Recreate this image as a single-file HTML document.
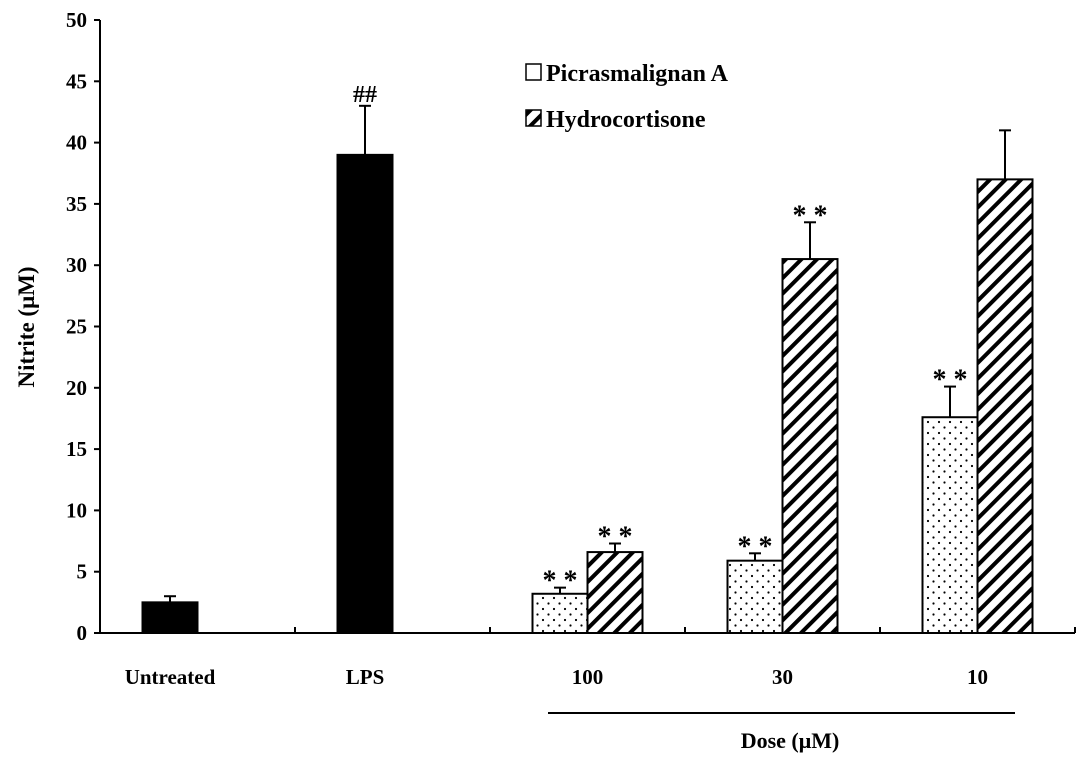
<!DOCTYPE html>
<html><head><meta charset="utf-8"><style>
body{margin:0;background:#fff;}
svg text{font-family:"Liberation Serif",serif;font-weight:bold;}
</style></head><body>
<svg width="1087" height="764" viewBox="0 0 1087 764">
<defs>
<pattern id="dots" width="11" height="11" patternUnits="userSpaceOnUse"><circle cx="4" cy="4" r="1.1" fill="#000"/><circle cx="9.5" cy="9.5" r="1.1" fill="#000"/></pattern>
<pattern id="hatch" width="11" height="11" patternUnits="userSpaceOnUse" patternTransform="rotate(45)"><rect width="11" height="11" fill="#fff"/><rect x="0" y="0" width="4" height="11" fill="#000"/></pattern>
</defs>
<g id="g"></g>
</svg>
<script>
const categories=["Untreated","LPS","100","30","10"];
const picras=[2.5,39,3.2,5.9,17.6];
const picrasErr=[0.5,4,0.5,0.6,2.5];
const hydro=[null,null,6.6,30.5,37];
const hydroErr=[null,null,0.7,3,4];
const picrasMark=["","##","* *","* *","* *"];
const hydroMark=["","","* *","* *",""];
const yTicks=[0,5,10,15,20,25,30,35,40,45,50];
const NS="http://www.w3.org/2000/svg";
const g=document.getElementById('g');
const x0=100,gw=195,bw=55;
const y=v=>633-v*12.26;
function mk(t,a,txt){const e=document.createElementNS(NS,t);for(const k in a)e.setAttribute(k,a[k]);if(txt!=null)e.textContent=txt;g.appendChild(e);return e;}
let e=mk('line',{x1:x0,y1:y(0),x2:1075,y2:y(0),stroke:'#000','stroke-width':2});

e=mk('line',{x1:x0,y1:y(50),x2:x0,y2:y(0),stroke:'#000','stroke-width':2});

yTicks.forEach(t=>{
  e=mk('line',{x1:x0-6,y1:y(t),x2:x0,y2:y(t),stroke:'#000','stroke-width':2});
  
  e=mk('text',{x:x0-13,y:y(t)+7,'text-anchor':'end','font-size':21},t);
  
});
for(let k=1;k<=categories.length;k++){
  e=mk('line',{x1:x0+k*gw,y1:y(0),x2:x0+k*gw,y2:y(0)-6,stroke:'#000','stroke-width':2});
  
}
function bar(xl,v,err,fill,mark){
  const r=mk('rect',{x:xl,y:y(v),width:bw,height:y(0)-y(v),fill:fill,stroke:'#000','stroke-width':2});
  
  const cx=xl+bw/2;
  let l=mk('line',{x1:cx,y1:y(v),x2:cx,y2:y(v+err),stroke:'#000','stroke-width':2});
  
  l=mk('line',{x1:cx-6,y1:y(v+err),x2:cx+6,y2:y(v+err),stroke:'#000','stroke-width':2});
  
  if(mark){const t=mk('text',{x:cx,y:y(v+err)-(mark==='##'?4:-2),'text-anchor':'middle','font-size':mark==='##'?24:28,'font-weight':'normal'},mark);
    }
}
categories.forEach((c,i)=>{
  const gc=x0+(i+0.5)*gw;
  const xl=gc-bw;
  bar(xl,picras[i],picrasErr[i],i<2?'#000':'url(#dots)',picrasMark[i]);
  if(hydro[i]!=null)bar(gc,hydro[i],hydroErr[i],'url(#hatch)',hydroMark[i]);
  const t=mk('text',{x:i<2?xl+bw/2:gc,y:684,'text-anchor':'middle','font-size':21},c);
  
});
e=mk('line',{x1:548,y1:713,x2:1015,y2:713,stroke:'#000','stroke-width':2});

e=mk('text',{x:790,y:748,'text-anchor':'middle','font-size':22},'Dose (μM)');

e=mk('text',{x:0,y:0,'text-anchor':'middle','font-size':23,transform:'translate(34,327) rotate(-90)'},'Nitrite (μM)');

e=mk('rect',{x:526,y:64,width:15,height:16,fill:'#fff',stroke:'#000','stroke-width':1.5});

e=mk('text',{x:546,y:81,'font-size':24},'Picrasmalignan A');

e=mk('rect',{x:526,y:110,width:15,height:16,fill:'url(#hatch)',stroke:'#000','stroke-width':1.5});

e=mk('text',{x:546,y:127,'font-size':24},'Hydrocortisone');

</script>
</body></html>
